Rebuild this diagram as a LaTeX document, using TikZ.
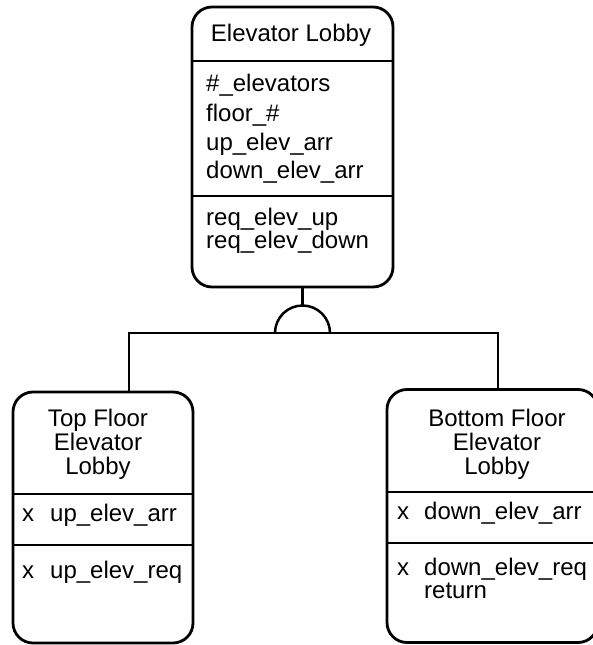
\documentclass[tikz,border=0pt]{standalone}
\usepackage{fontspec}
\setmainfont{Liberation Sans}
\begin{document}
\begin{tikzpicture}[x=1pt,y=-1pt,
  box/.style={draw,line width=2.8pt,rounded corners=20pt,inner sep=0pt,outer sep=0pt},
  rule/.style={line width=2.8pt},
  wire/.style={line width=2.5pt},
  txt/.style={inner sep=0pt,font=\fontsize{24}{28}\selectfont},
  lt/.style={txt,anchor=base west},
  ct/.style={txt,anchor=base}]
\useasboundingbox (0,0) rectangle (592,645);
% boxes
\node[box,minimum width=201pt,minimum height=280pt] (top) at (292.5,147) {};
\node[box,minimum width=180pt,minimum height=251pt] (left) at (103,517.5) {};
\node[box,minimum width=211pt,minimum height=253pt] (right) at (492.5,516) {};
% dividers
\draw[rule] (top.west |- 0,61) -- (top.east |- 0,61);
\draw[rule] (top.west |- 0,196) -- (top.east |- 0,196);
\draw[rule] (left.west |- 0,494) -- (left.east |- 0,494);
\draw[rule] (left.west |- 0,545) -- (left.east |- 0,545);
\draw[rule] (right.west |- 0,492) -- (right.east |- 0,492);
\draw[rule] (right.west |- 0,543) -- (right.east |- 0,543);
% texts: top
\node[ct] (t0) at (291,41) {Elevator Lobby};
\node[lt] (t1) at (206,91) {\#\_elevators};
\node[lt] (t2) at (206,121) {floor\_\#};
\node[lt] (t3) at (206,150) {up\_elev\_arr};
\node[lt] (t4) at (206,178) {down\_elev\_arr};
\node[lt] (t5) at (206,225) {req\_elev\_up};
\node[lt] (t6) at (206,248) {req\_elev\_down};
% texts: left
\node[ct] (l0) at (98,426) {Top Floor};
\node[ct] (l1) at (98,450) {Elevator};
\node[ct] (l2) at (98,474) {Lobby};
\node[lt] (l3) at (22,521) {\makebox[28pt][l]{x}up\_elev\_arr};
\node[lt] (l4) at (22,578) {\makebox[28pt][l]{x}up\_elev\_req};
% texts: right
\node[ct] (r0) at (497,426) {Bottom Floor};
\node[ct] (r1) at (497,450) {Elevator};
\node[ct] (r2) at (497,474) {Lobby};
\node[lt] (r3) at (397,519) {\makebox[27pt][l]{x}down\_elev\_arr};
\node[lt] (r4) at (397,575) {\makebox[27pt][l]{x}down\_elev\_req};
\node[lt] (r5) at (424,598) {return};
% connectors
\coordinate (apex) at (302.5,305.5);
\coordinate (arcL) at (275,333);
\coordinate (hl) at (129,333);
\coordinate (hr) at (498,333);
\draw[wire] ([xshift=10pt]top.south) -- (apex);
\draw[wire] (arcL) arc[start angle=180,end angle=0,radius=27.5pt];
\draw[wire] ([xshift=26pt]left.north) -- (hl) -- (hr) -- ([xshift=5.5pt]right.north);
\end{tikzpicture}
\end{document}
